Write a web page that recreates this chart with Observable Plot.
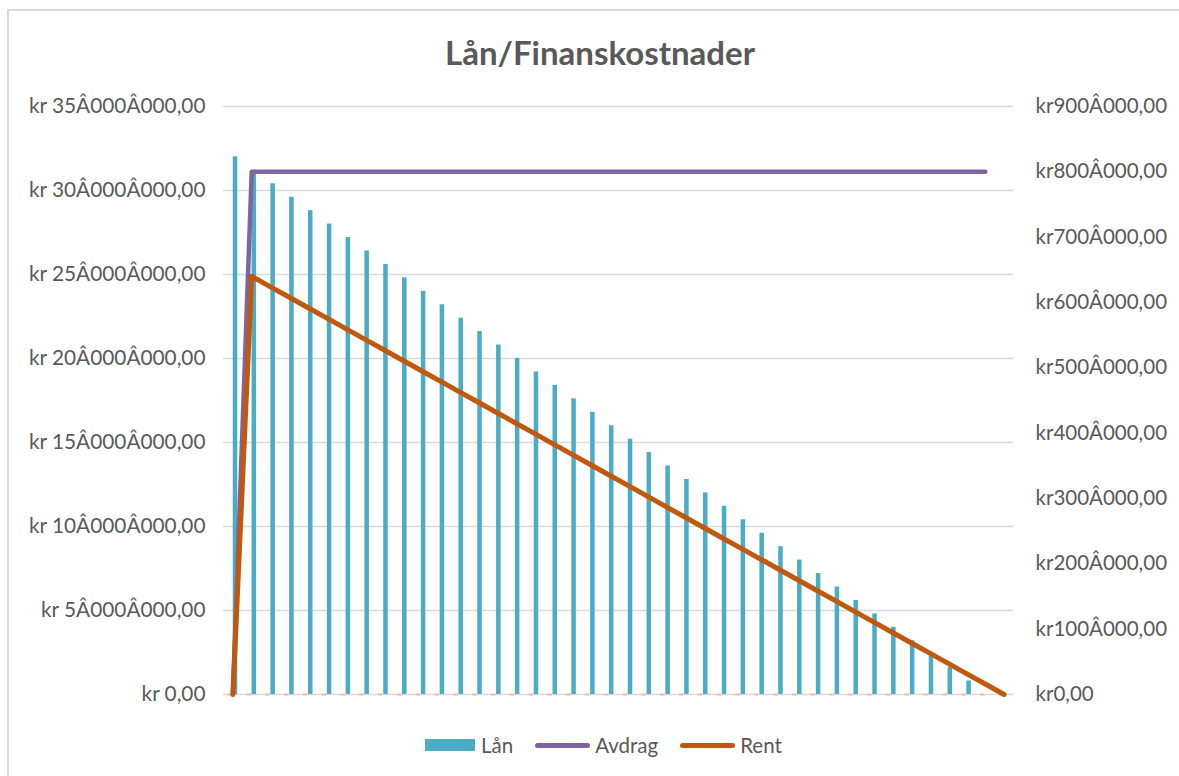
<!DOCTYPE html>
<html>
<head>
<meta charset="utf-8">
<script src="https://cdn.jsdelivr.net/npm/d3@7"></script>
<script src="https://cdn.jsdelivr.net/npm/@observablehq/plot@0.6"></script>
<style>
  body { margin: 0; background: #fff; }
  #wrap { position: relative; width: 1179px; height: 776px; overflow: hidden; font-family: Lato, "Open Sans", sans-serif; color: #595959; background: #fff; }
  #frame { position: absolute; left: 7px; top: 9px; width: 1300px; height: 900px; border-left: 2px solid #d9d9d9; border-top: 2px solid #d9d9d9; }
  #chart { position: absolute; left: 0; top: 0; }
  #title { position: absolute; left: 0; width: 1200px; top: 34px; text-align: center; font-size: 33px; line-height: 36px; font-weight: bold; color: #595959; }
  #legend { position: absolute; left: 425px; top: 732px; display: flex; align-items: center; font-size: 20.5px; line-height: 26px; color: #595959; }
  .sw-bar { width: 50px; height: 12px; background: #4bacc6; margin-right: 6px; }
  .sw-line { height: 5px; border-radius: 3px; margin-right: 5px; }
  .item { display: flex; align-items: center; }
</style>
</head>
<body>
<div id="wrap">
  <div id="frame"></div>
  <div id="chart"></div>
  <div id="title">Lån/Finanskostnader</div>
  <div id="legend"></div>
</div>
<script>
// ---- data ----
const periods = [0,1,2,3,4,5,6,7,8,9,10,11,12,13,14,15,16,17,18,19,20,21,22,23,24,25,26,27,28,29,30,31,32,33,34,35,36,37,38,39,40,41];
const lan = [32000000,31200000,30400000,29600000,28800000,28000000,27200000,26400000,25600000,24800000,
             24000000,23200000,22400000,21600000,20800000,20000000,19200000,18400000,17600000,16800000,
             16000000,15200000,14400000,13600000,12800000,12000000,11200000,10400000,9600000,8800000,
             8000000,7200000,6400000,5600000,4800000,4000000,3200000,2400000,1600000,800000,0,null];
const avdrag = [0,800000,800000,800000,800000,800000,800000,800000,800000,800000,
                800000,800000,800000,800000,800000,800000,800000,800000,800000,800000,
                800000,800000,800000,800000,800000,800000,800000,800000,800000,800000,
                800000,800000,800000,800000,800000,800000,800000,800000,800000,800000,800000,null];
const rent = [0,640000,624000,608000,592000,576000,560000,544000,528000,512000,
              496000,480000,464000,448000,432000,416000,400000,384000,368000,352000,
              336000,320000,304000,288000,272000,256000,240000,224000,208000,192000,
              176000,160000,144000,128000,112000,96000,80000,64000,48000,32000,16000,0];
const leftTicks = [0,5000000,10000000,15000000,20000000,25000000,30000000,35000000];
const rightTicks = [0,100000,200000,300000,400000,500000,600000,700000,800000,900000];
const seriesNames = ["Lån","Avdrag","Rent"];
const colors = {"Lån":"#4bacc6","Avdrag":"#8064a2","Rent":"#c0590e"};

const leftMax = 35000000, rightMax = 900000;
const ratio = leftMax / rightMax; // secondary axis mapped onto primary
const fmt = v => d3.format(",.2f")(v).replace(/,/g, "Â").replace(".", ",");

const rows = periods.map((p, i) => ({p, lan: lan[i], avdrag: avdrag[i], rent: rent[i]}));

const chart = Plot.plot({
  width: 1179, height: 720,
  marginTop: 106, marginBottom: 26, marginLeft: 223, marginRight: 166,
  style: {fontFamily: "Lato, 'Open Sans', sans-serif", fontSize: "20.8px", color: "#595959", background: "transparent", overflow: "visible"},
  x: {type: "band", domain: periods, paddingInner: 0.76, paddingOuter: 0.38, axis: null},
  y: {domain: [0, leftMax], ticks: leftTicks, tickFormat: d => "kr " + fmt(d), tickSize: 0, tickPadding: 18, label: null},
  marks: [
    Plot.ruleY(leftTicks, {stroke: "#d9d9d9", strokeWidth: 1.5}),
    Plot.ruleY([0], {stroke: "#f4b183", strokeWidth: 2, strokeOpacity: 0.7, strokeDasharray: "4.5 14.31", strokeDashoffset: -4.55}),
    Plot.barY(rows.filter(d => d.lan != null), {x: "p", y: "lan", fill: colors["Lån"], dx: 2.6}),
    Plot.line(rows.filter(d => d.avdrag != null), {x: "p", y: d => d.avdrag * ratio, stroke: colors["Avdrag"], strokeWidth: 4.5, strokeLinecap: "round", strokeLinejoin: "round"}),
    Plot.line(rows.filter(d => d.rent != null), {x: "p", y: d => d.rent * ratio, stroke: colors["Rent"], strokeWidth: 5, strokeLinecap: "round", strokeLinejoin: "round"}),
    Plot.text(rightTicks, {y: d => d * ratio, text: d => "kr" + fmt(d), frameAnchor: "right", textAnchor: "start", dx: 22, fill: "#595959", fontSize: 20.5})
  ]
});
document.getElementById("chart").appendChild(chart);

// legend
const legend = document.getElementById("legend");
seriesNames.forEach((name, i) => {
  const item = document.createElement("div");
  item.className = "item";
  if (i > 0) item.style.marginLeft = "22px";
  const sw = document.createElement("div");
  if (name === "Lån") { sw.className = "sw-bar"; }
  else { sw.className = "sw-line"; sw.style.width = "55px"; sw.style.background = colors[name]; }
  const label = document.createElement("span");
  label.textContent = name;
  item.appendChild(sw); item.appendChild(label);
  legend.appendChild(item);
});
</script>
</body>
</html>
